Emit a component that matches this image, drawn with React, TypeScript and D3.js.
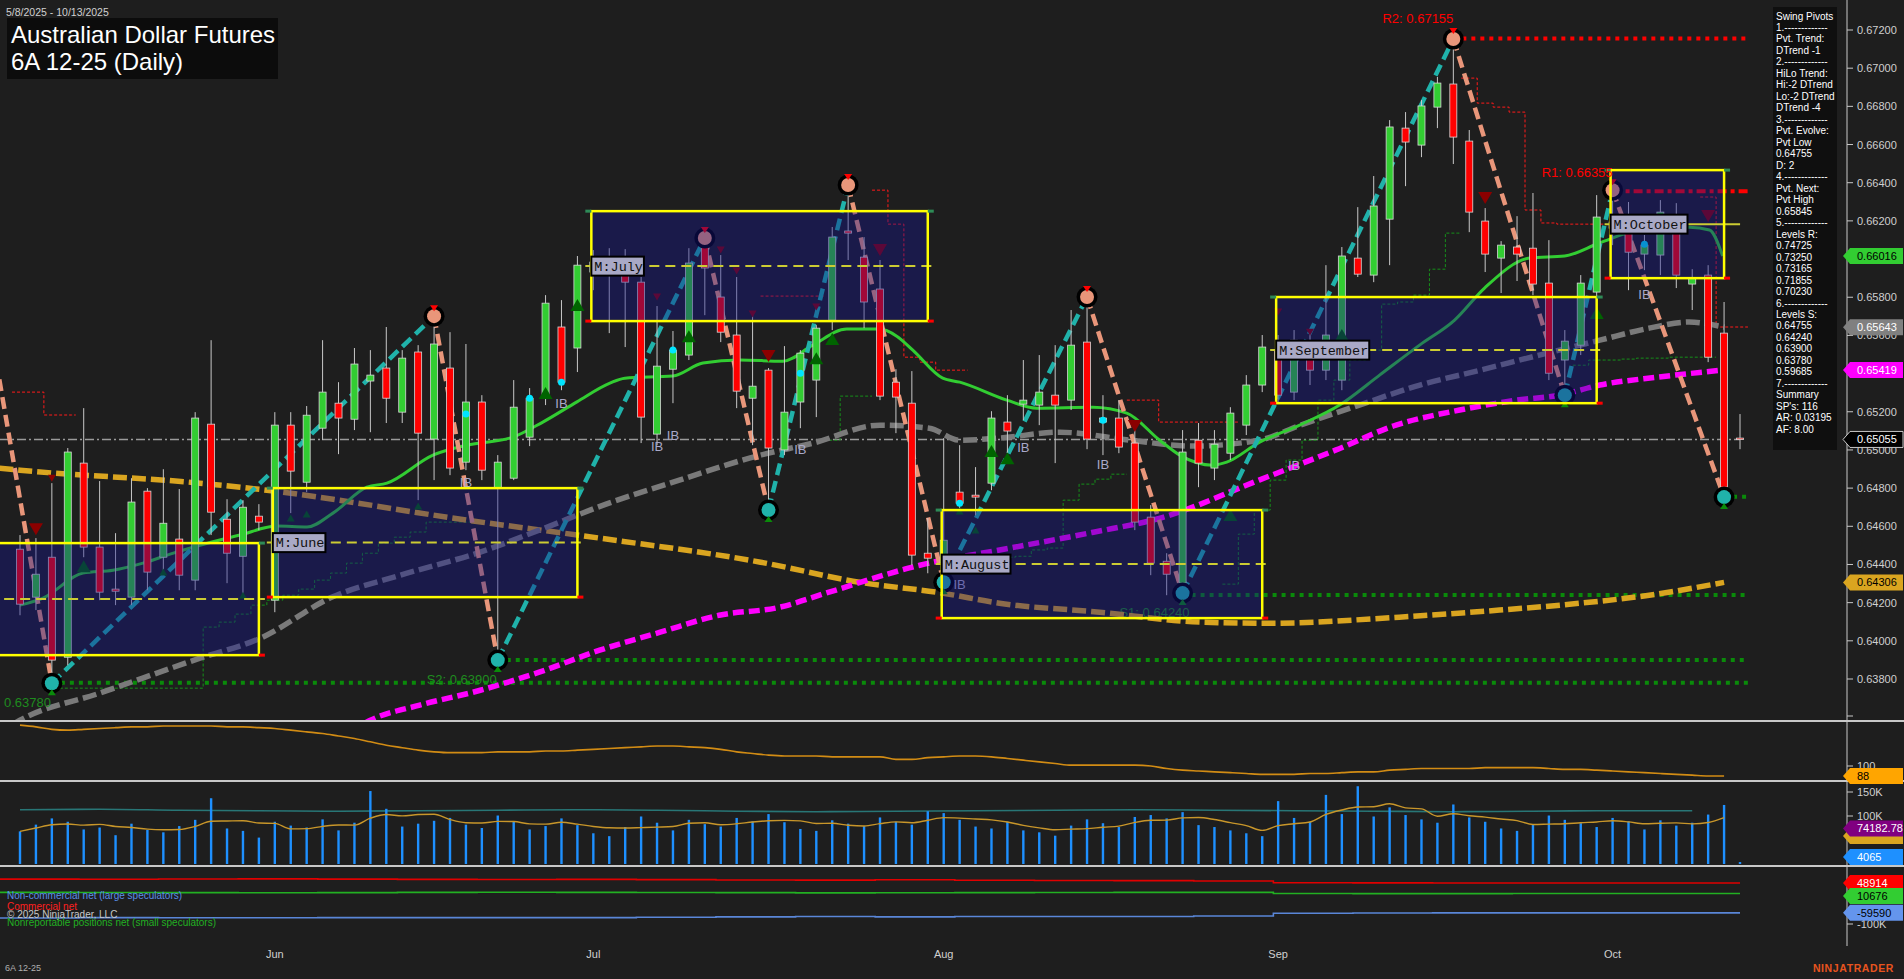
import React, { useEffect } from 'react';
import * as d3 from 'd3';

const W = 1904;
const H = 979;
const FONT = "'Liberation Sans', Arial, sans-serif";
const MONO = "'Liberation Mono', 'DejaVu Sans Mono', monospace";

const HOLIDAYS = ['2025-05-26', '2025-06-19', '2025-07-04', '2025-09-01'];

const opens = [
  0.64480, 0.64229, 0.64438, 0.63914, 0.64931, 0.64491, 0.64271, 0.64229, 0.64784, 0.64438,
  0.64533, 0.64318, 0.65135, 0.64637, 0.64443, 0.64653, 0.64213, 0.65130, 0.64831, 0.65114,
  0.65245, 0.65161, 0.65361, 0.65429, 0.65198, 0.65513, 0.65057, 0.65429, 0.64936, 0.65251,
  0.64800, 0.64852, 0.65067, 0.65277, 0.65644, 0.65534, 0.65932, 0.66010, 0.66005, 0.65879,
  0.65083, 0.65423, 0.65497, 0.66099, 0.65801, 0.65602, 0.65271, 0.65418, 0.65000, 0.65251,
  0.65366, 0.65680, 0.66147, 0.66010, 0.65843, 0.65355, 0.65245, 0.64459, 0.64407, 0.64779,
  0.64763, 0.64826, 0.65146, 0.65240, 0.65235, 0.65287, 0.65261, 0.65565, 0.65146, 0.65167,
  0.65036, 0.64648, 0.64417, 0.64302, 0.65051, 0.64905, 0.64983, 0.65130, 0.65340, 0.65523,
  0.65303, 0.65549, 0.65418, 0.65366, 0.66005, 0.65916, 0.66209, 0.66686, 0.66597, 0.66796,
  0.66917, 0.66618, 0.66199, 0.66005, 0.66063, 0.66057, 0.65874, 0.65471, 0.65549, 0.65827,
  0.66194, 0.66141, 0.66026, 0.66021, 0.66194, 0.65869, 0.65916, 0.65612, 0.65062,
];
const highs = [
  0.64554, 0.64538, 0.64826, 0.65010, 0.65219, 0.64837, 0.64564, 0.64852, 0.64800, 0.64899,
  0.64795, 0.65198, 0.65575, 0.64742, 0.64737, 0.64716, 0.65198, 0.65198, 0.65230, 0.65575,
  0.65355, 0.65534, 0.65523, 0.65644, 0.65523, 0.65549, 0.65701, 0.65617, 0.65555, 0.65287,
  0.64973, 0.65366, 0.65324, 0.65811, 0.65785, 0.66016, 0.66047, 0.66057, 0.66052, 0.65906,
  0.65754, 0.65623, 0.66057, 0.66110, 0.66021, 0.65906, 0.65722, 0.65429, 0.65544, 0.65523,
  0.65654, 0.66168, 0.66388, 0.66115, 0.65995, 0.65423, 0.65413, 0.64643, 0.65062, 0.65025,
  0.64910, 0.65203, 0.65287, 0.65471, 0.65497, 0.65549, 0.65733, 0.65801, 0.65287, 0.65261,
  0.65114, 0.64711, 0.64459, 0.65104, 0.65141, 0.65104, 0.65224, 0.65392, 0.65602, 0.65602,
  0.65628, 0.65628, 0.65968, 0.66063, 0.66272, 0.66435, 0.66728, 0.66770, 0.66833, 0.66954,
  0.67153, 0.66676, 0.66267, 0.66094, 0.66225, 0.66346, 0.66099, 0.65628, 0.65916, 0.66335,
  0.66361, 0.66299, 0.66126, 0.66309, 0.66293, 0.65947, 0.65968, 0.65775, 0.65188,
];
const lows = [
  0.64134, 0.64161, 0.63778, 0.63872, 0.64438, 0.64213, 0.64187, 0.64187, 0.64265, 0.64344,
  0.64265, 0.64265, 0.64554, 0.64302, 0.64229, 0.64580, 0.64150, 0.64669, 0.64779, 0.65051,
  0.64978, 0.65104, 0.65093, 0.65141, 0.65141, 0.64737, 0.64842, 0.64868, 0.64894, 0.64842,
  0.63899, 0.64842, 0.65020, 0.65235, 0.65313, 0.65408, 0.65837, 0.65612, 0.65539, 0.65036,
  0.65025, 0.65245, 0.65471, 0.65706, 0.65565, 0.65219, 0.65025, 0.64685, 0.64973, 0.65114,
  0.65172, 0.65628, 0.65995, 0.65638, 0.65261, 0.65088, 0.64396, 0.64354, 0.64307, 0.64685,
  0.64658, 0.64789, 0.64983, 0.65156, 0.65130, 0.64931, 0.65209, 0.65004, 0.64973, 0.64983,
  0.64580, 0.64344, 0.64239, 0.64250, 0.64805, 0.64842, 0.64947, 0.65078, 0.65303, 0.65245,
  0.65261, 0.65340, 0.65366, 0.65313, 0.65906, 0.65879, 0.65968, 0.66382, 0.66534, 0.66686,
  0.66498, 0.66141, 0.65932, 0.65822, 0.65885, 0.65811, 0.65366, 0.65287, 0.65497, 0.65785,
  0.66073, 0.65837, 0.65942, 0.65916, 0.65848, 0.65733, 0.65460, 0.64753, 0.65004,
];
const closes = [
  0.64192, 0.64349, 0.63899, 0.64989, 0.64491, 0.64255, 0.64260, 0.64727, 0.64360, 0.64616,
  0.64344, 0.65167, 0.64674, 0.64459, 0.64700, 0.64622, 0.65130, 0.64889, 0.65182, 0.65303,
  0.65167, 0.65450, 0.65392, 0.65271, 0.65481, 0.65088, 0.65555, 0.64905, 0.65251, 0.64894,
  0.64936, 0.65224, 0.65271, 0.65769, 0.65355, 0.65968, 0.65984, 0.65999, 0.65879, 0.65172,
  0.65439, 0.65523, 0.65979, 0.65953, 0.65617, 0.65308, 0.65334, 0.65010, 0.65198, 0.65507,
  0.65638, 0.66115, 0.66136, 0.65775, 0.65282, 0.65277, 0.64449, 0.64433, 0.64527, 0.64721,
  0.64753, 0.65167, 0.65099, 0.65261, 0.65303, 0.65235, 0.65549, 0.65057, 0.65167, 0.65015,
  0.64622, 0.64407, 0.64349, 0.64989, 0.64931, 0.65030, 0.65193, 0.65340, 0.65539, 0.65287,
  0.65575, 0.65418, 0.65602, 0.66016, 0.65921, 0.66278, 0.66692, 0.66613, 0.66802, 0.66922,
  0.66639, 0.66246, 0.66026, 0.66073, 0.66026, 0.65869, 0.65402, 0.65570, 0.65874, 0.66220,
  0.66162, 0.66036, 0.66073, 0.66246, 0.65916, 0.65900, 0.65486, 0.64805, 0.65055,
];

// volume in thousands of contracts
const volumeK = [
  68, 82, 95, 88, 72, 76, 60, 84, 71, 66,
  79, 92, 137, 74, 69, 55, 88, 80, 76, 93,
  70, 86, 152, 115, 78, 84, 90, 96, 82, 75,
  101, 88, 72, 79, 95, 81, 64, 58, 77, 99,
  86, 70, 92, 83, 78, 96, 89, 104, 87, 73,
  69, 91, 84, 79, 97, 88, 82, 110, 106, 92,
  78, 74, 88, 70, 66, 59, 80, 93, 85, 77,
  98, 102, 95, 108, 81, 77, 70, 64, 58, 131,
  96, 88, 144, 104, 162, 99, 118, 102, 93, 86,
  124, 97, 88, 74, 69, 83, 101, 92, 85, 77,
  96, 89, 72, 91, 80, 86, 103, 123, 4.065,
];

// weekly open-interest style teal line (thousands, volume scale)
const tealLineK = [113, 114, 112, 111, 110, 111, 112, 113, 112, 110, 109, 110, 111, 112, 113, 112, 111, 110, 109, 110, 111, 111];

const oscValues = [
  149, 147, 144, 143, 144, 145, 146, 147, 147, 148,
  148, 148, 148, 147, 147, 146, 145, 143, 141, 139,
  136, 133, 129, 125, 122, 119, 117, 116, 116, 116,
  117, 117, 117, 118, 118, 119, 120, 121, 122, 123,
  124, 124, 123, 122, 120, 117, 115, 113, 112, 112,
  112, 111, 111, 111, 111, 108, 108, 110, 111, 112,
  112, 111, 109, 107, 105, 103, 101, 101, 101, 101,
  101, 100, 97, 95, 94, 93, 92, 91, 90, 90,
  90, 91, 91, 92, 93, 93, 95, 96, 97, 97,
  97, 97, 98, 98, 98, 98, 97, 96, 96, 95,
  94, 93, 92, 91, 90, 89, 88, 88,
];

// COT weekly (5 bars per entry)
const cotCommercial = [63000, 62500, 63500, 64000, 63000, 62000, 61500, 62000, 61000, 60000, 59500, 60500, 59000, 58000, 57500, 56000, 50000, 49500, 49000, 48914, 48914, 48914];
const cotSmall = [15000, 14500, 14000, 13500, 14000, 15000, 15500, 15000, 14500, 14000, 13000, 13500, 14000, 14500, 15000, 15000, 11000, 10500, 10500, 10676, 10676, 10676];
const cotNonCommercial = [-78000, -77000, -77500, -77500, -77000, -77000, -77000, -77000, -75500, -74000, -72500, -74000, -73000, -72500, -72500, -71000, -61000, -60000, -59500, -59590, -59590, -59590];

// moving averages: [bar index, price]
const maGreen: [number, number][] = [[0, 0.64187], [1.44, 0.64224], [3.95, 0.64355], [5.84, 0.64370], [7.72, 0.64407], [9.42, 0.64454], [11.3, 0.64501], [13.81, 0.64554], [16.13, 0.64601], [18.02, 0.64596], [19.65, 0.64669], [21.78, 0.64805], [23.04, 0.64826], [25.93, 0.64973], [28.06, 0.65025], [30.95, 0.65067], [32.83, 0.65146], [34.97, 0.65252], [37.04, 0.65350], [37.98, 0.65376], [40.99, 0.65387], [42.88, 0.65455], [45.2, 0.65471], [47.9, 0.65465], [49.78, 0.65549], [51.91, 0.65633], [53.99, 0.65633], [55.05, 0.65596], [56.06, 0.65523], [57.94, 0.65376], [59.01, 0.65355], [61.96, 0.65261], [63.84, 0.65219], [67.36, 0.65224], [69.49, 0.65193], [71.56, 0.65051], [72.82, 0.64973], [74.89, 0.64920], [75.77, 0.64936], [77.84, 0.65041], [80.35, 0.65130], [82.86, 0.65235], [85.37, 0.65392], [87.88, 0.65549], [90.08, 0.65680], [91.96, 0.65848], [94.79, 0.66005], [96.99, 0.66016], [99.18, 0.66084], [101.69, 0.66152], [104.83, 0.66167], [106.09, 0.66152], [106.91, 0.66016]];
const maGold: [number, number][] = [[-1.3, 0.64905], [0, 0.64894], [11.3, 0.64826], [15.5, 0.64789], [28.1, 0.64632], [36.4, 0.64538], [46.5, 0.64412], [52.7, 0.64307], [57.9, 0.64250], [61.5, 0.64197], [67.8, 0.64150], [74.1, 0.64098], [78.5, 0.64092], [86.6, 0.64124], [92.9, 0.64161], [96.7, 0.64187], [102.3, 0.64239], [107, 0.64306]];
const maGray: [number, number][] = [[-0.5, 0.63560], [0, 0.63584], [5, 0.63726], [11.3, 0.63909], [15.1, 0.64014], [19.6, 0.64229], [23.9, 0.64344], [28.9, 0.64465], [32.6, 0.64580], [36.8, 0.64716], [41.4, 0.64842], [46.5, 0.64973], [49.8, 0.65036], [54, 0.65130], [57.1, 0.65114], [59, 0.65051], [61.5, 0.65062], [65.3, 0.65093], [69.7, 0.65051], [73.6, 0.65020], [77.8, 0.65051], [80.4, 0.65130], [84.1, 0.65235], [87.9, 0.65340], [91.7, 0.65418], [95.4, 0.65497], [99.2, 0.65575], [102.3, 0.65638], [104.8, 0.65670], [107, 0.65643]];
const maMagenta: [number, number][] = [[20, 0.63480], [22, 0.63584], [25.1, 0.63663], [28.9, 0.63741], [32.6, 0.63836], [36.4, 0.63951], [40.2, 0.64045], [43.9, 0.64134], [47.7, 0.64176], [50.8, 0.64255], [56.5, 0.64396], [62.1, 0.64485], [67.4, 0.64569], [71.6, 0.64643], [77.8, 0.64842], [82.6, 0.64999], [86.4, 0.65130], [90.4, 0.65209], [94, 0.65261], [96.7, 0.65287], [99.2, 0.65340], [102.9, 0.65382], [107, 0.65419]];

// swing pivots
const pivotIdx = [-1.3, 2, 26, 30, 43, 47, 52, 58, 67, 73, 90, 97, 100, 107];
const pivotPrice = [0.6537, 0.63778, 0.65701, 0.63899, 0.66110, 0.64685, 0.66388, 0.64307, 0.65801, 0.64250, 0.67153, 0.65287, 0.66361, 0.64753];
const pivotType = ['H', 'L', 'H', 'L', 'H', 'L', 'H', 'L', 'H', 'L', 'H', 'L', 'H', 'L'];

// monthly boxes
const boxNames = ['May', 'June', 'July', 'August', 'September', 'October'];
const boxStart = [-1.5, 16, 36, 58, 79, 100];
const boxEnd = [15, 35, 57, 78, 99, 107];
const boxTop = [0.64512, 0.64800, 0.66251, 0.64685, 0.65801, 0.66466];
const boxBottom = [0.63925, 0.64229, 0.65675, 0.64119, 0.65245, 0.65900];

// trailing stops (start bar, values per bar)
const redStops: { from: number; vals: number[] }[] = [
  { from: 0, vals: [0.65303, 0.65303, 0.65183, 0.65183] },
  { from: 47, vals: [0.65806, 0.65806, 0.65806, 0.65806] },
  { from: 54, vals: [0.66361, 0.66183, 0.65486, 0.65460, 0.65418, 0.65418] },
  { from: 70, vals: [0.65261, 0.65261, 0.65146, 0.65146, 0.65146, 0.65146, 0.65146] },
  { from: 91, vals: [0.66948, 0.66817, 0.66796, 0.66770, 0.66257, 0.66189, 0.66183, 0.66183, 0.66183] },
  { from: 106, vals: [0.66325, 0.65644, 0.65644] },
];
const greenStops: { from: number; vals: number[] }[] = [
  { from: 3, vals: [0.63752, 0.63752, 0.63752, 0.63752, 0.63752, 0.63752, 0.63752, 0.63752, 0.63752, 0.64072, 0.64098, 0.64140, 0.64187, 0.64213, 0.64239, 0.64271, 0.64318, 0.64355, 0.64407, 0.64459, 0.64512, 0.64543, 0.64570, 0.64622, 0.64622, 0.64622] },
  { from: 51, vals: [0.65051, 0.65282, 0.65282] },
  { from: 62, vals: [0.64438, 0.64443, 0.64476, 0.64486, 0.64737, 0.64821, 0.64847, 0.64873] },
  { from: 76, vals: [0.64297, 0.64559, 0.64685, 0.64842, 0.64947, 0.65051, 0.65261, 0.65366, 0.65471, 0.65523, 0.65764, 0.65775, 0.65811, 0.65947, 0.66136] },
  { from: 98, vals: [0.65444, 0.65471, 0.65471, 0.65476, 0.65481, 0.65481, 0.65486, 0.65486, 0.65486] },
];

// support / resistance levels
const sLevels = [0.63780, 0.63900, 0.64240, 0.64755];
const sFrom = [2, 30, 73, 107];
const sNames = ['S3', 'S2', 'S1', ''];
const rLevels = [0.67155, 0.66355];
const rFrom = [90, 100];
const rNames = ['R2', 'R1'];
const lastPrice = 0.65055;

// markers
const downTri: [number, number, number][] = [[1, 0.64585, 1], [2, 0.64852, 0], [40, 0.65801, 0], [44, 0.66047, 0], [45, 0.65937, 0], [46, 0.65712, 0], [47, 0.65492, 1], [50, 0.65749, 0], [54, 0.66047, 1], [70, 0.65125, 1], [79, 0.65722, 0], [81, 0.65617, 0], [92, 0.66320, 1], [106, 0.66225, 1]];
const upTri: [number, number, number][] = [[4, 0.64391, 1], [9, 0.64360, 0], [14, 0.64239, 0], [17, 0.64643, 0], [18, 0.64664, 0], [25, 0.64706, 0], [33, 0.65298, 1], [35, 0.65759, 1], [42, 0.65596, 1], [50, 0.65481, 1], [51, 0.65581, 1], [59, 0.64680, 0], [60, 0.64580, 0], [61, 0.64994, 1], [62, 0.64957, 1], [76, 0.64659, 1], [83, 0.65602, 1], [99, 0.65717, 1]];
const cyanDots: [number, number][] = [[28, 0.65188], [32, 0.65271], [34, 0.65355], [41, 0.65523], [49, 0.65402], [59, 0.64721], [68, 0.65156], [102, 0.66078]];
const ibLabels: [number, number][] = [[28, 0.64831], [34, 0.65245], [40, 0.65020], [41, 0.65078], [49, 0.65004], [59, 0.64297], [63, 0.65015], [68, 0.64926], [80, 0.64920], [102, 0.65816]];

const pivotText = ['Swing Pivots', '1.-------------', 'Pvt. Trend:', 'DTrend -1', '2.-------------', 'HiLo Trend:', 'Hi:-2 DTrend', 'Lo:-2 DTrend', 'DTrend -4', '3.-------------', 'Pvt. Evolve:', 'Pvt Low', '0.64755', 'D: 2', '4.-------------', 'Pvt. Next:', 'Pvt High', '0.65845', '5.-------------', 'Levels R:', '0.74725', '0.73250', '0.73165', '0.71855', '0.70230', '6.-------------', 'Levels S:', '0.64755', '0.64240', '0.63900', '0.63780', '0.59685', '7.-------------', 'Summary', "SP's: 116", 'AR: 0.03195', 'AF: 8.00'];

const maLabelValues = [0.66016, 0.65643, 0.65419, 0.64306];
const maLabelColors = ['#32cd32', '#808080', '#ff00ff', '#daa520'];
const maLabelText = ['#000', '#fff', '#fff', '#000'];
const oscLast = 88;
const volAvgLabel = 74182.78;
const volHiddenLabel = 58300;

function tradingDays(): Date[] {
  const out: Date[] = [];
  const d = new Date(2025, 4, 8);
  const end = new Date(2025, 9, 13);
  const fmt = d3.timeFormat('%Y-%m-%d');
  while (d <= end) {
    const dow = d.getDay();
    if (dow !== 0 && dow !== 6 && !HOLIDAYS.includes(fmt(d))) out.push(new Date(d));
    d.setDate(d.getDate() + 1);
  }
  return out;
}

type Pt = [number, number];

function Flag({ yc, text, bg, fg, stroke }: { yc: number; text: string; bg: string; fg: string; stroke?: string }) {
  const pts = `1843,${yc} 1850,${yc - 8} 1903,${yc - 8} 1903,${yc + 8} 1850,${yc + 8}`;
  return (
    <g>
      <polygon points={pts} fill={bg} stroke={stroke || 'none'} strokeWidth={1} />
      <text x={1857} y={yc + 4} fontSize={11} fill={fg} fontFamily={FONT}>{text}</text>
    </g>
  );
}

export default function App() {
  useEffect(() => {
    document.body.style.margin = '0';
    document.body.style.background = '#1e1e1e';
    document.documentElement.style.overflow = 'hidden';
  }, []);

  const days = tradingDays();
  const n = opens.length;
  const x = d3.scaleLinear().domain([0, n - 1]).range([20, 1740]);
  const y = d3.scaleLinear().domain([0.638, 0.672]).range([679, 30]);
  const yo = d3.scaleLinear().domain([88, 100]).range([776, 766]);
  const yv = d3.scaleLinear().domain([0, 150]).range([864, 792]);
  const yc = d3.scaleLinear().domain([-100000, 48914]).range([924, 883]);

  const pathOf = (pts: Pt[], sx: (v: number) => number, sy: (v: number) => number, curve: d3.CurveFactory = d3.curveMonotoneX) =>
    d3.line<Pt>().x((d) => sx(d[0])).y((d) => sy(d[1])).curve(curve)(pts) || '';

  const stopPts = (s: { from: number; vals: number[] }): Pt[] => {
    const pts: Pt[] = [[s.from - 0.5, s.vals[0]]];
    s.vals.forEach((v, k) => pts.push([s.from + k, v]));
    pts.push([s.from + s.vals.length - 0.5, s.vals[s.vals.length - 1]]);
    return pts;
  };

  const monthTicks: { i: number; label: string }[] = [];
  days.forEach((d, i) => {
    if (i > 0 && d.getMonth() !== days[i - 1].getMonth()) monthTicks.push({ i, label: d3.timeFormat('%b')(d) });
  });

  const priceTicks = d3.range(0, 18).map((k) => 0.638 + k * 0.002);

  // volume SMA (5)
  const volSma: Pt[] = volumeK.slice(0, n - 1).map((v, i) => {
    const a = volumeK.slice(Math.max(0, i - 4), i + 1);
    return [i, d3.mean(a) as number];
  });
  const tealPts: Pt[] = tealLineK.map((v, k) => [Math.min(k * 5, n - 1), v]);

  const cotPts = (arr: number[]): Pt[] => {
    const pts: Pt[] = arr.map((v, k) => [k * 5 - 1.3, v]);
    pts.push([n - 1, arr[arr.length - 1]]);
    return pts;
  };

  // COT labels pushed apart
  const cotLabelVals = [cotCommercial[cotCommercial.length - 1], cotSmall[cotSmall.length - 1], cotNonCommercial[cotNonCommercial.length - 1]];
  const cotLabelY: number[] = [];
  cotLabelVals.forEach((v, k) => {
    let yy = yc(v);
    if (k > 0 && yy < cotLabelY[k - 1] + 13) yy = cotLabelY[k - 1] + 13;
    cotLabelY.push(yy);
  });

  const bodyW = 7;

  const boxX0 = (k: number) => x(boxStart[k]) - 2;
  const boxX1 = (k: number) => x(boxEnd[k]);

  return (
    <svg width={W} height={H} style={{ position: 'absolute', left: 0, top: 0, display: 'block' }} fontFamily={FONT}>
      <defs>
        <clipPath id="mainClip"><rect x={0} y={0} width={1847} height={720} /></clipPath>
        <clipPath id="oscClip"><rect x={0} y={722} width={1847} height={58} /></clipPath>
        <clipPath id="volClip"><rect x={0} y={782} width={1847} height={84} /></clipPath>
      </defs>
      <rect x={0} y={0} width={W} height={H} fill="#1e1e1e" />

      {/* ================= MAIN PANEL ================= */}
      <g clipPath="url(#mainClip)">
        {/* last price line */}
        <line x1={0} x2={x(n - 1)} y1={y(lastPrice)} y2={y(lastPrice)} stroke="#9a9a9a" strokeWidth={1.5} strokeDasharray="9,3,2,3" />

        {/* support dotted levels */}
        {sLevels.map((p, k) => (
          <line key={'s' + k} x1={x(sFrom[k])} x2={x(n - 1) + 8} y1={y(p)} y2={y(p)} stroke="#0a8a0a" strokeWidth={4} strokeDasharray="4,5" />
        ))}
        {/* resistance */}
        <line x1={x(rFrom[0])} x2={x(n - 1) + 8} y1={y(rLevels[0])} y2={y(rLevels[0])} stroke="#ff0000" strokeWidth={4} strokeDasharray="4,5" />
        <line x1={x(rFrom[1])} x2={x(n - 1) + 8} y1={y(rLevels[1])} y2={y(rLevels[1])} stroke="#ff0000" strokeWidth={4} strokeDasharray="9,4,4,4" />

        {/* S1 label sits under the August box */}
        <text x={x(sFrom[2]) + 7} y={y(sLevels[2]) + 22} fontSize={13} fill="#1e8c1e" textAnchor="end">{`${sNames[2]}: ${sLevels[2].toFixed(5)}`}</text>

        {/* trailing stops */}
        {redStops.map((s, k) => (
          <path key={'rs' + k} d={pathOf(stopPts(s), x, y, d3.curveStep)} fill="none" stroke="#ff1a1a" strokeWidth={1} strokeDasharray="3,2" />
        ))}
        {greenStops.map((s, k) => (
          <path key={'gs' + k} d={pathOf(stopPts(s), x, y, d3.curveStep)} fill="none" stroke="#16901a" strokeWidth={1} strokeDasharray="3,2" />
        ))}

        {/* moving averages */}
        <path d={pathOf(maGold, x, y)} fill="none" stroke="#daa520" strokeWidth={5.5} strokeDasharray="14,5" />
        <path d={pathOf(maGray, x, y)} fill="none" stroke="#7a7a7a" strokeWidth={5.5} strokeDasharray="14,5" />
        <path d={pathOf(maMagenta, x, y)} fill="none" stroke="#ff00ff" strokeWidth={5.5} strokeDasharray="11,5" />
        <path d={pathOf(maGreen, x, y)} fill="none" stroke="#32cd32" strokeWidth={3} />

        {/* swing legs */}
        {pivotIdx.slice(0, -1).map((pi, k) => (
          <line key={'leg' + k} x1={x(pi)} y1={y(pivotPrice[k])} x2={x(pivotIdx[k + 1])} y2={y(pivotPrice[k + 1])}
            stroke={pivotType[k] === 'L' ? '#20b2aa' : '#e9967a'} strokeWidth={4.5} strokeDasharray="12,6" />
        ))}

        {/* candles */}
        {opens.map((o, i) => {
          const c = closes[i];
          const up = c >= o;
          const yTop = y(Math.max(o, c));
          const yBot = y(Math.min(o, c));
          return (
            <g key={'c' + i}>
              <line x1={x(i)} x2={x(i)} y1={y(highs[i])} y2={y(lows[i])} stroke="#c8c8c8" strokeWidth={1} />
              <rect x={x(i) - bodyW / 2} y={yTop} width={bodyW} height={Math.max(1.5, yBot - yTop)}
                fill={up ? '#32cd32' : '#ff0000'} stroke="#d8d8d8" strokeWidth={0.8} />
            </g>
          );
        })}

        {/* markers */}
        {downTri.map(([i, p, big], k) => {
          const w = big ? 7 : 4, h = big ? 12 : 7;
          const cx = x(i), cy = y(p);
          return <polygon key={'dt' + k} points={`${cx - w},${cy - h / 2} ${cx + w},${cy - h / 2} ${cx},${cy + h / 2}`} fill="#8b0000" />;
        })}
        {upTri.map(([i, p, big], k) => {
          const w = big ? 7 : 4, h = big ? 12 : 7;
          const cx = x(i), cy = y(p);
          return <polygon key={'ut' + k} points={`${cx - w},${cy + h / 2} ${cx + w},${cy + h / 2} ${cx},${cy - h / 2}`} fill="#006400" />;
        })}
        {cyanDots.map(([i, p], k) => (
          <circle key={'cd' + k} cx={x(i)} cy={y(p)} r={3.5} fill="#00e5ff" />
        ))}
        {ibLabels.map(([i, p], k) => (
          <text key={'ib' + k} x={x(i)} y={y(p) + 5} fontSize={13} fill="#a9a9c9" textAnchor="middle">IB</text>
        ))}

        {/* pivot circles */}
        {pivotIdx.map((pi, k) => {
          if (pi < 0) return null;
          const cx = x(pi), cy = y(pivotPrice[k]);
          const hi = pivotType[k] === 'H';
          return (
            <g key={'pv' + k}>
              <circle cx={cx} cy={cy} r={10.5} fill="#000" />
              <circle cx={cx} cy={cy} r={7} fill={hi ? '#e9967a' : '#20b2aa'} />
              {hi ? (
                <polygon points={`${cx - 4},${cy - 11} ${cx + 4},${cy - 11} ${cx},${cy - 5}`} fill="#ff0000" />
              ) : (
                <polygon points={`${cx - 4},${cy + 12} ${cx + 4},${cy + 12} ${cx},${cy + 6}`} fill="#0a8a0a" />
              )}
            </g>
          );
        })}

        {/* monthly box overlays */}
        {boxNames.map((nm, k) => (
          <rect key={'bo' + k} x={boxX0(k)} y={y(boxTop[k])} width={boxX1(k) - boxX0(k)} height={y(boxBottom[k]) - y(boxTop[k])}
            fill="rgb(20,20,140)" fillOpacity={0.4} />
        ))}
        {boxNames.map((nm, k) => {
          const x0 = boxX0(k), x1 = boxX1(k);
          const yt = y(boxTop[k]), yb = y(boxBottom[k]);
          const ym = y((boxTop[k] + boxBottom[k]) / 2);
          const last = k === boxNames.length - 1;
          return (
            <g key={'bb' + k}>
              <line x1={x0 - 6} x2={x1 + (last ? 16 : 6)} y1={ym} y2={ym} stroke="#cccc33" strokeWidth={2} strokeDasharray={last ? undefined : '10,6'} />
              <rect x={x0} y={yt} width={x1 - x0} height={yb - yt} fill="none" stroke="#ffff00" strokeWidth={2.5} />
              <line x1={x0 - 6} x2={x0} y1={yt} y2={yt} stroke="#2e8b57" strokeWidth={3} />
              <line x1={x1} x2={x1 + 6} y1={yt} y2={yt} stroke="#2e8b57" strokeWidth={3} />
              <line x1={x0 - 6} x2={x0} y1={yb} y2={yb} stroke="#ff0000" strokeWidth={3} />
              <line x1={x1} x2={x1 + 6} y1={yb} y2={yb} stroke="#ff0000" strokeWidth={3} />
              {k > 0 && (
                <g>
                  <rect x={x0} y={ym - 9.5} width={('M:' + nm).length * 8.1 + 4} height={19} fill="#a9a9c6" stroke="#000" strokeWidth={2} />
                  <text x={x0 + 3} y={ym + 4.5} fontSize={13.5} fontFamily={MONO} fill="#111">{'M:' + nm}</text>
                </g>
              )}
            </g>
          );
        })}

        {/* level texts */}
        {rLevels.map((p, k) => (
          <text key={'rt' + k} x={x(rFrom[k])} y={y(p) - (k === 0 ? 16 : 14)} fontSize={13} fill="#ff0000" textAnchor="end">{`${rNames[k]}: ${p.toFixed(5)}`}</text>
        ))}
        <text x={x(sFrom[1]) - 1} y={y(sLevels[1]) + 24} fontSize={13} fill="#1e8c1e" textAnchor="end">{`${sNames[1]}: ${sLevels[1].toFixed(5)}`}</text>
        {/* the leftmost level label only shows its value (prefix is off the chart edge) */}
        <text x={4} y={y(sLevels[0]) + 24} fontSize={13} fill="#1e8c1e">{sLevels[0].toFixed(5)}</text>
      </g>

      {/* ================= OSCILLATOR ================= */}
      <g clipPath="url(#oscClip)">
        <path d={pathOf(oscValues.map((v, i) => [i, v] as Pt), x, yo)} fill="none" stroke="#d28c14" strokeWidth={1.6} />
      </g>

      {/* ================= VOLUME ================= */}
      <g clipPath="url(#volClip)">
        <path d={pathOf(tealPts, x, yv)} fill="none" stroke="#2a8c8c" strokeWidth={1.6} strokeOpacity={0.8} />
        {volumeK.map((v, i) => (
          <rect key={'v' + i} x={x(i) - 1.2} y={yv(v)} width={2.4} height={yv(0) - yv(v)} fill="#1e90ff" />
        ))}
        <path d={pathOf(volSma, x, yv)} fill="none" stroke="#c8962a" strokeWidth={1.4} />
      </g>

      {/* ================= COT ================= */}
      <path d={pathOf(cotPts(cotCommercial), x, yc, d3.curveStepAfter)} fill="none" stroke="#e00000" strokeWidth={1.6} />
      <path d={pathOf(cotPts(cotSmall), x, yc, d3.curveStepAfter)} fill="none" stroke="#22b022" strokeWidth={1.6} />
      <path d={pathOf(cotPts(cotNonCommercial), x, yc, d3.curveStepAfter)} fill="none" stroke="#5a86d8" strokeWidth={1.6} />
      <text x={7} y={899} fontSize={10} fill="#5a8ee8">Non-commercial net (large speculators)</text>
      <text x={7} y={910} fontSize={10} fill="#ff2020">Commercial net</text>
      <text x={7} y={918} fontSize={10} fill="#c8c8c8">© 2025 NinjaTrader, LLC</text>
      <text x={7} y={926} fontSize={10} fill="#22b022">Nonreportable positions net (small speculators)</text>

      {/* ================= FRAME ================= */}
      <line x1={0} x2={W} y1={721} y2={721} stroke="#c8c8c8" strokeWidth={2} />
      <line x1={0} x2={W} y1={781} y2={781} stroke="#c8c8c8" strokeWidth={2} />
      <line x1={0} x2={W} y1={866} y2={866} stroke="#c8c8c8" strokeWidth={2} />
      <line x1={1847} x2={1847} y1={0} y2={946} stroke="#c8c8c8" strokeWidth={1} />

      {/* price axis */}
      {priceTicks.map((p, k) => (
        <g key={'pt' + k}>
          <line x1={1847} x2={1853} y1={y(p)} y2={y(p)} stroke="#c8c8c8" />
          <text x={1857} y={y(p) + 4} fontSize={11} fill="#d0d0d0">{p.toFixed(5)}</text>
        </g>
      ))}
      <line x1={1847} x2={1853} y1={716} y2={716} stroke="#c8c8c8" />
      {/* osc axis */}
      <line x1={1847} x2={1853} y1={yo(100)} y2={yo(100)} stroke="#c8c8c8" />
      <text x={1857} y={yo(100) + 4} fontSize={11} fill="#d0d0d0">100</text>
      {/* volume axis */}
      {[150, 100].map((v) => (
        <g key={'va' + v}>
          <line x1={1847} x2={1853} y1={yv(v)} y2={yv(v)} stroke="#c8c8c8" />
          <text x={1857} y={yv(v) + 4} fontSize={11} fill="#d0d0d0">{v + 'K'}</text>
        </g>
      ))}
      {/* cot axis */}
      <line x1={1847} x2={1853} y1={yc(-100000)} y2={yc(-100000)} stroke="#c8c8c8" />
      <text x={1857} y={yc(-100000) + 4} fontSize={11} fill="#d0d0d0">-100K</text>

      {/* value flags */}
      {maLabelValues.map((v, k) => (
        <Flag key={'mf' + k} yc={y(v)} text={v.toFixed(5)} bg={maLabelColors[k]} fg={maLabelText[k]} />
      ))}
      <Flag yc={y(lastPrice)} text={lastPrice.toFixed(5)} bg="#000" fg="#fff" stroke="#c8c8c8" />
      <Flag yc={yo(oscLast)} text={String(oscLast)} bg="#ffa500" fg="#000" />
      <Flag yc={yv(volHiddenLabel / 1000)} text="" bg="#daa520" fg="#000" />
      <Flag yc={yv(volAvgLabel / 1000)} text={volAvgLabel.toFixed(2)} bg="#800080" fg="#fff" />
      <Flag yc={Math.min(857, yv(volumeK[n - 1]))} text={String(Math.round(volumeK[n - 1] * 1000))} bg="#1e90ff" fg="#fff" />
      <Flag yc={cotLabelY[0]} text={String(cotLabelVals[0])} bg="#ff0000" fg="#fff" />
      <Flag yc={cotLabelY[1]} text={String(cotLabelVals[1])} bg="#32cd32" fg="#000" />
      <Flag yc={cotLabelY[2]} text={String(cotLabelVals[2])} bg="#6495ed" fg="#000" />

      {/* x axis */}
      {monthTicks.map((t) => (
        <text key={'mt' + t.i} x={x(t.i)} y={958} fontSize={11} fill="#d0d0d0" textAnchor="middle">{t.label}</text>
      ))}

      {/* title */}
      <text x={6} y={16} fontSize={10.5} fill="#d0d0d0">5/8/2025 - 10/13/2025</text>
      <rect x={7} y={18} width={271} height={61} fill="#0c0c0c" />
      <text x={11} y={43} fontSize={24} fill="#ffffff">Australian Dollar Futures</text>
      <text x={11} y={70} fontSize={24} fill="#ffffff">6A 12-25 (Daily)</text>

      {/* swing pivots panel */}
      <rect x={1773} y={7} width={64} height={443} fill="#0f0f0f" />
      {pivotText.map((t, k) => (
        <text key={'sp' + k} x={1776} y={19.5 + k * 11.48} fontSize={10} fill="#ffffff">{t}</text>
      ))}

      {/* footer */}
      <text x={5} y={971} fontSize={9} fill="#b0b0b0">6A 12-25</text>
      <text x={1894} y={972} fontSize={10.5} fontWeight="bold" fill="#e8541e" textAnchor="end" letterSpacing={0.6}>NINJATRADER</text>
    </svg>
  );
}
